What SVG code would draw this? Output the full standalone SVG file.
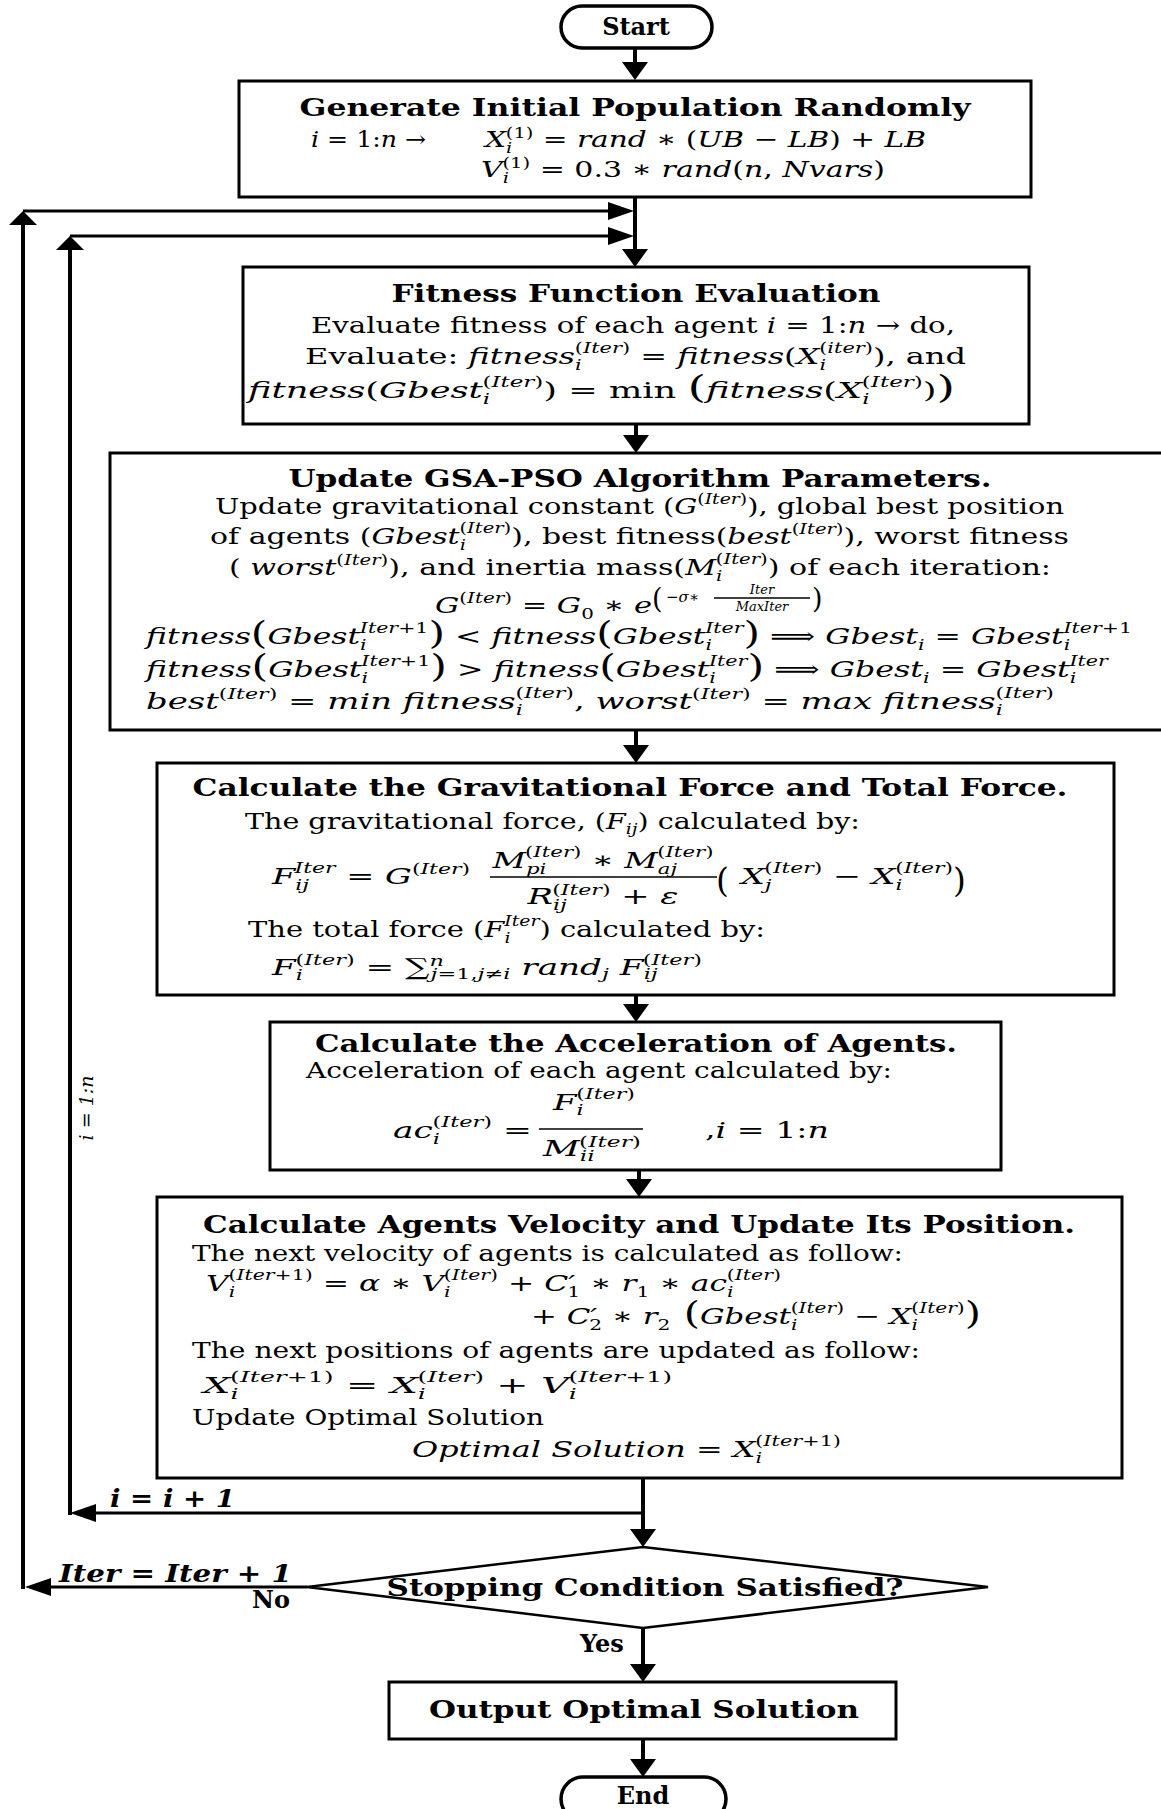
<svg xmlns="http://www.w3.org/2000/svg" width="1161" height="1809" viewBox="0 0 1161 1809">
<style>
  text{font-family:"DejaVu Serif","Liberation Serif",serif;fill:#000}
  .tt{font-weight:bold;font-size:24px}
  .bd{font-size:23px}
  .i{font-style:italic}
  .s{font-size:15px}
  .xs{font-size:13px}
  .bp{font-size:31px}
  .c{text-anchor:middle}
  .box{fill:#fff;stroke:#000;stroke-width:3}
  .term{fill:#fff;stroke:#000;stroke-width:3.5}
  .ln{fill:none;stroke:#000;stroke-width:4}
  .lt{fill:none;stroke:#000;stroke-width:3}
  .bar{stroke:#000;stroke-width:1.6}
</style>
<defs>
  <marker id="ah" markerUnits="userSpaceOnUse" markerWidth="26" markerHeight="18" refX="20" refY="9" orient="auto"><path d="M0,0 L26,9 L0,18 Z"/></marker>
  <marker id="av" markerUnits="userSpaceOnUse" markerWidth="18" markerHeight="26" refX="12" refY="13" orient="auto"><path d="M0,0 L18,13 L0,26 Z"/></marker>
  <marker id="au" markerUnits="userSpaceOnUse" markerWidth="14" markerHeight="28" refX="8" refY="14" orient="auto"><path d="M0,0 L14,14 L0,28 Z"/></marker>
</defs>
<rect width="1161" height="1809" fill="#fff"/>

<!-- connectors -->
<g id="connectors">
  <path class="ln" d="M635,48 V74" marker-end="url(#av)"/>
  <path class="ln" d="M635,197 V261" marker-end="url(#av)"/>
  <path class="lt" d="M23,211 H628" marker-end="url(#ah)"/>
  <path class="lt" d="M70,236 H628" marker-end="url(#ah)"/>
  <path class="ln" d="M23,1589 V217" marker-end="url(#au)"/>
  <path class="ln" d="M70,1515 V242" marker-end="url(#au)"/>
  <path class="ln" d="M636,424 V447" marker-end="url(#av)"/>
  <path class="ln" d="M636,730 V757" marker-end="url(#av)"/>
  <path class="ln" d="M636,995 V1016" marker-end="url(#av)"/>
  <path class="ln" d="M639,1170 V1191" marker-end="url(#av)"/>
  <path class="ln" d="M643,1478 V1541" marker-end="url(#av)"/>
  <path class="lt" d="M643,1513 H76" marker-end="url(#ah)"/>
  <path class="lt" d="M307,1587 H31" marker-end="url(#ah)"/>
  <path class="ln" d="M643,1628 V1676" marker-end="url(#av)"/>
  <path class="ln" d="M643,1739 V1771" marker-end="url(#av)"/>
  <text class="tt i" x="110" y="1507" font-size="22" textLength="125" lengthAdjust="spacingAndGlyphs">i = i + 1</text>
  <text class="tt i" x="59" y="1582" font-size="22" textLength="233" lengthAdjust="spacingAndGlyphs">Iter = Iter + 1</text>
  <text class="tt" x="252" y="1608" font-size="21">No</text>
  <text class="tt" x="580" y="1652" font-size="21">Yes</text>
  <text class="i c" transform="translate(93,1108) rotate(-90)" font-size="19">i = 1:n</text>
</g>

<!-- Start -->
<g id="start">
  <rect class="term" x="561" y="6" width="151" height="42" rx="21"/>
  <text class="tt c" x="636" y="35">Start</text>
</g>

<!-- Generate initial population -->
<g id="init">
  <rect class="box" x="239" y="81" width="792" height="116"/>
  <text class="tt c" x="635" y="116" textLength="671" lengthAdjust="spacingAndGlyphs">Generate Initial Population Randomly</text>
  <text class="bd" x="311" y="147" textLength="115" lengthAdjust="spacingAndGlyphs"><tspan class="i">i</tspan> = 1:<tspan class="i">n</tspan> →</text>
  <text class="bd" x="485" y="147" textLength="441" lengthAdjust="spacingAndGlyphs"><tspan class="i">X</tspan><tspan class="s i" dy="6">i</tspan><tspan class="s" dx="-5" dy="-15">(1)</tspan><tspan dy="9"> = </tspan><tspan class="i">rand</tspan> ∗ (<tspan class="i">UB</tspan> − <tspan class="i">LB</tspan>) + <tspan class="i">LB</tspan></text>
  <text class="bd" x="481" y="177" textLength="404" lengthAdjust="spacingAndGlyphs"><tspan class="i">V</tspan><tspan class="s i" dy="6">i</tspan><tspan class="s" dx="-5" dy="-15">(1)</tspan><tspan dy="9"> = 0.3 ∗ </tspan><tspan class="i">rand</tspan>(<tspan class="i">n</tspan>, <tspan class="i">Nvars</tspan>)</text>
</g>

<!-- Fitness evaluation -->
<g id="fitness">
  <rect class="box" x="243" y="267" width="786" height="157"/>
  <text class="tt c" x="636" y="302" textLength="489" lengthAdjust="spacingAndGlyphs">Fitness Function Evaluation</text>
  <text class="bd" x="311" y="333" textLength="644" lengthAdjust="spacingAndGlyphs">Evaluate fitness of each agent   <tspan class="i">i</tspan> = 1:<tspan class="i">n</tspan> →  do,</text>
  <text class="bd" x="305" y="364" textLength="661" lengthAdjust="spacingAndGlyphs">Evaluate: <tspan class="i">fitness</tspan><tspan class="s i" dy="6">i</tspan><tspan class="s" dx="-5" dy="-17">(<tspan class="i">Iter</tspan>)</tspan><tspan dy="11"> = </tspan><tspan class="i">fitness</tspan>(<tspan class="i">X</tspan><tspan class="s i" dy="6">i</tspan><tspan class="s" dx="-5" dy="-17">(<tspan class="i">iter</tspan>)</tspan><tspan dy="11">), and</tspan></text>
  <text class="bd" x="248" y="398" textLength="707" lengthAdjust="spacingAndGlyphs"><tspan class="i">fitness</tspan>(<tspan class="i">Gbest</tspan><tspan class="s i" dy="6">i</tspan><tspan class="s" dx="-5" dy="-17">(<tspan class="i">Iter</tspan>)</tspan><tspan dy="11">) = min </tspan><tspan class="bp">(</tspan><tspan class="i">fitness</tspan>(<tspan class="i">X</tspan><tspan class="s i" dy="6">i</tspan><tspan class="s" dx="-5" dy="-17">(<tspan class="i">Iter</tspan>)</tspan><tspan dy="11">)</tspan><tspan class="bp">)</tspan></text>
</g>

<!-- Parameter update -->
<g id="params">
  <rect class="box" x="110" y="453" width="1060" height="277"/>
  <text class="tt c" x="640" y="487" textLength="703" lengthAdjust="spacingAndGlyphs">Update GSA-PSO Algorithm Parameters.</text>
  <text class="bd" x="215" y="514" textLength="849" lengthAdjust="spacingAndGlyphs">Update gravitational constant (<tspan class="i">G</tspan><tspan class="s" dy="-10">(<tspan class="i">Iter</tspan>)</tspan><tspan dy="10">), global best position</tspan></text>
  <text class="bd" x="210" y="544" textLength="859" lengthAdjust="spacingAndGlyphs">of agents (<tspan class="i">Gbest</tspan><tspan class="s i" dy="6">i</tspan><tspan class="s" dx="-5" dy="-17">(<tspan class="i">Iter</tspan>)</tspan><tspan dy="11">), best fitness(</tspan><tspan class="i">best</tspan><tspan class="s" dy="-10">(<tspan class="i">Iter</tspan>)</tspan><tspan dy="10">), worst fitness</tspan></text>
  <text class="bd" x="229" y="575" textLength="822" lengthAdjust="spacingAndGlyphs">( <tspan class="i">worst</tspan><tspan class="s" dy="-10">(<tspan class="i">Iter</tspan>)</tspan><tspan dy="10">), and inertia mass(</tspan><tspan class="i">M</tspan><tspan class="s i" dy="6">i</tspan><tspan class="s" dx="-5" dy="-17">(<tspan class="i">Iter</tspan>)</tspan><tspan dy="11">) of each iteration:</tspan></text>
  <text class="bd" x="435" y="613" textLength="217" lengthAdjust="spacingAndGlyphs"><tspan class="i">G</tspan><tspan class="s" dy="-10">(<tspan class="i">Iter</tspan>)</tspan><tspan dy="10"> = </tspan><tspan class="i">G</tspan><tspan class="s" dy="6">0</tspan><tspan dy="-6"> ∗ </tspan><tspan class="i">e</tspan></text>
  <text x="652" y="608" font-size="27">(</text>
  <text class="s" x="666" y="602">−<tspan class="i">σ</tspan>∗</text>
  <text class="xs i c" x="762" y="594">Iter</text>
  <line class="bar" x1="714" y1="598" x2="810" y2="598"/>
  <text class="xs i c" x="762" y="611">MaxIter</text>
  <text x="812" y="608" font-size="27">)</text>
  <text class="bd" x="146" y="644" textLength="986" lengthAdjust="spacingAndGlyphs"><tspan class="i">fitness</tspan><tspan class="bp">(</tspan><tspan class="i">Gbest</tspan><tspan class="s i" dy="6">i</tspan><tspan class="s i" dx="-5" dy="-17">Iter</tspan><tspan class="s">+1</tspan><tspan class="bp" dy="11">)</tspan> &lt; <tspan class="i">fitness</tspan><tspan class="bp">(</tspan><tspan class="i">Gbest</tspan><tspan class="s i" dy="6">i</tspan><tspan class="s i" dx="-5" dy="-17">Iter</tspan><tspan class="bp" dy="11">)</tspan> ⟹ <tspan class="i">Gbest</tspan><tspan class="s i" dy="6">i</tspan><tspan dy="-6"> = </tspan><tspan class="i">Gbest</tspan><tspan class="s i" dy="6">i</tspan><tspan class="s i" dx="-5" dy="-17">Iter</tspan><tspan class="s">+1</tspan></text>
  <text class="bd" x="146" y="677" textLength="962" lengthAdjust="spacingAndGlyphs"><tspan class="i">fitness</tspan><tspan class="bp">(</tspan><tspan class="i">Gbest</tspan><tspan class="s i" dy="6">i</tspan><tspan class="s i" dx="-5" dy="-17">Iter</tspan><tspan class="s">+1</tspan><tspan class="bp" dy="11">)</tspan> &gt; <tspan class="i">fitness</tspan><tspan class="bp">(</tspan><tspan class="i">Gbest</tspan><tspan class="s i" dy="6">i</tspan><tspan class="s i" dx="-5" dy="-17">Iter</tspan><tspan class="bp" dy="11">)</tspan> ⟹  <tspan class="i">Gbest</tspan><tspan class="s i" dy="6">i</tspan><tspan dy="-6"> = </tspan><tspan class="i">Gbest</tspan><tspan class="s i" dy="6">i</tspan><tspan class="s i" dx="-5" dy="-17">Iter</tspan></text>
  <text class="bd" x="146" y="709" textLength="908" lengthAdjust="spacingAndGlyphs"><tspan class="i">best</tspan><tspan class="s" dy="-10">(<tspan class="i">Iter</tspan>)</tspan><tspan dy="10"> = </tspan><tspan class="i">min  fitness</tspan><tspan class="s i" dy="6">i</tspan><tspan class="s" dx="-5" dy="-17">(<tspan class="i">Iter</tspan>)</tspan><tspan dy="11">, </tspan><tspan class="i">worst</tspan><tspan class="s" dy="-10">(<tspan class="i">Iter</tspan>)</tspan><tspan dy="10"> = </tspan><tspan class="i">max  fitness</tspan><tspan class="s i" dy="6">i</tspan><tspan class="s" dx="-5" dy="-17">(<tspan class="i">Iter</tspan>)</tspan></text>
</g>

<!-- Gravitational and total force -->
<g id="force">
  <rect class="box" x="157" y="763" width="957" height="232"/>
  <text class="tt c" x="630" y="796" textLength="875" lengthAdjust="spacingAndGlyphs">Calculate the Gravitational Force and Total Force.</text>
  <text class="bd" x="245" y="829" textLength="615" lengthAdjust="spacingAndGlyphs">The gravitational force, (<tspan class="i">F</tspan><tspan class="s i" dy="5">ij</tspan><tspan dy="-5">) calculated by:</tspan></text>
  <text class="bd" x="272" y="884" textLength="198" lengthAdjust="spacingAndGlyphs"><tspan class="i">F</tspan><tspan class="s i" dy="6">ij</tspan><tspan class="s i" dx="-10" dy="-17">Iter</tspan><tspan dy="11"> = </tspan><tspan class="i">G</tspan><tspan class="s" dy="-10">(<tspan class="i">Iter</tspan>)</tspan></text>
  <text class="bd c" x="603" y="868" textLength="221" lengthAdjust="spacingAndGlyphs"><tspan class="i">M</tspan><tspan class="s i" dy="6">pi</tspan><tspan class="s" dx="-15" dy="-17">(<tspan class="i">Iter</tspan>)</tspan><tspan dy="11"> ∗ </tspan><tspan class="i">M</tspan><tspan class="s i" dy="6">aj</tspan><tspan class="s" dx="-14" dy="-17">(<tspan class="i">Iter</tspan>)</tspan></text>
  <line class="bar" x1="490" y1="877" x2="717" y2="877"/>
  <text class="bd c" x="603" y="904" textLength="151" lengthAdjust="spacingAndGlyphs"><tspan class="i">R</tspan><tspan class="s i" dy="6">ij</tspan><tspan class="s" dx="-10" dy="-15">(<tspan class="i">Iter</tspan>)</tspan><tspan dy="9"> +  </tspan><tspan class="i">ε</tspan></text>
  <text x="716" y="892" font-size="33">(</text>
  <text class="bd" x="741" y="884" textLength="212" lengthAdjust="spacingAndGlyphs"><tspan class="i">X</tspan><tspan class="s i" dy="6">j</tspan><tspan class="s" dx="-5" dy="-17">(<tspan class="i">Iter</tspan>)</tspan><tspan dy="11"> − </tspan><tspan class="i">X</tspan><tspan class="s i" dy="6">i</tspan><tspan class="s" dx="-5" dy="-17">(<tspan class="i">Iter</tspan>)</tspan></text>
  <text x="953" y="892" font-size="33">)</text>
  <text class="bd" x="248" y="937" textLength="517" lengthAdjust="spacingAndGlyphs">The total force (<tspan class="i">F</tspan><tspan class="s i" dy="6">i</tspan><tspan class="s i" dx="-5" dy="-17">Iter</tspan><tspan dy="11">) calculated by:</tspan></text>
  <text class="bd" x="272" y="975" textLength="430" lengthAdjust="spacingAndGlyphs"><tspan class="i">F</tspan><tspan class="s i" dy="5">i</tspan><tspan class="s" dx="-5" dy="-15">(<tspan class="i">Iter</tspan>)</tspan><tspan dy="10"> = ∑</tspan><tspan class="s i" dy="-9">n</tspan><tspan class="s" dx="-9" dy="13"><tspan class="i">j</tspan>=1,<tspan class="i">j</tspan>≠<tspan class="i">i</tspan></tspan><tspan class="i" dy="-4"> rand</tspan><tspan class="s i" dy="4">j</tspan><tspan class="i" dy="-4"> F</tspan><tspan class="s i" dy="4">ij</tspan><tspan class="s" dx="-10" dy="-14">(<tspan class="i">Iter</tspan>)</tspan></text>
</g>

<!-- Acceleration -->
<g id="accel">
  <rect class="box" x="270" y="1022" width="731" height="148"/>
  <text class="tt c" x="636" y="1052" textLength="642" lengthAdjust="spacingAndGlyphs">Calculate the Acceleration of Agents.</text>
  <text class="bd" x="306" y="1078" textLength="586" lengthAdjust="spacingAndGlyphs">Acceleration of each agent calculated by:</text>
  <text class="bd" x="393" y="1138" textLength="139" lengthAdjust="spacingAndGlyphs"><tspan class="i">ac</tspan><tspan class="s i" dy="6">i</tspan><tspan class="s" dx="-5" dy="-17">(<tspan class="i">Iter</tspan>)</tspan><tspan dy="11"> = </tspan></text>
  <text class="bd c" x="594" y="1110" textLength="82" lengthAdjust="spacingAndGlyphs"><tspan class="i">F</tspan><tspan class="s i" dy="5">i</tspan><tspan class="s" dx="-5" dy="-16">(<tspan class="i">Iter</tspan>)</tspan></text>
  <line class="bar" x1="539" y1="1129" x2="643" y2="1129"/>
  <text class="bd c" x="592" y="1156" textLength="98" lengthAdjust="spacingAndGlyphs"><tspan class="i">M</tspan><tspan class="s i" dy="5">ii</tspan><tspan class="s" dx="-10" dy="-14">(<tspan class="i">Iter</tspan>)</tspan></text>
  <text class="bd" x="705" y="1138" textLength="124" lengthAdjust="spacingAndGlyphs">,<tspan class="i">i</tspan> = 1:<tspan class="i">n</tspan></text>
</g>

<!-- Velocity and position update -->
<g id="velocity">
  <rect class="box" x="157" y="1197" width="965" height="281"/>
  <text class="tt c" x="639" y="1233" textLength="872" lengthAdjust="spacingAndGlyphs">Calculate Agents Velocity and Update Its Position.</text>
  <text class="bd" x="192" y="1261" textLength="711" lengthAdjust="spacingAndGlyphs">The next velocity of agents is calculated as follow:</text>
  <text class="bd" x="206" y="1291" textLength="575" lengthAdjust="spacingAndGlyphs"><tspan class="i">V</tspan><tspan class="s i" dy="6">i</tspan><tspan class="s" dx="-5" dy="-17">(<tspan class="i">Iter</tspan>+1)</tspan><tspan dy="11"> = </tspan><tspan class="i">α</tspan> ∗ <tspan class="i">V</tspan><tspan class="s i" dy="6">i</tspan><tspan class="s" dx="-5" dy="-17">(<tspan class="i">Iter</tspan>)</tspan><tspan dy="11"> + </tspan><tspan class="i">C′</tspan><tspan class="s" dx="-6" dy="6">1</tspan><tspan dy="-6"> ∗ </tspan><tspan class="i">r</tspan><tspan class="s" dy="6">1</tspan><tspan dy="-6"> ∗ </tspan><tspan class="i">ac</tspan><tspan class="s i" dy="6">i</tspan><tspan class="s" dx="-5" dy="-17">(<tspan class="i">Iter</tspan>)</tspan></text>
  <text class="bd" x="531" y="1324" textLength="450" lengthAdjust="spacingAndGlyphs">+ <tspan class="i">C′</tspan><tspan class="s" dx="-6" dy="6">2</tspan><tspan dy="-6"> ∗ </tspan><tspan class="i">r</tspan><tspan class="s" dy="6">2</tspan><tspan class="bp" dy="-6"> (</tspan><tspan class="i">Gbest</tspan><tspan class="s i" dy="6">i</tspan><tspan class="s" dx="-5" dy="-17">(<tspan class="i">Iter</tspan>)</tspan><tspan dy="11"> − </tspan><tspan class="i">X</tspan><tspan class="s i" dy="6">i</tspan><tspan class="s" dx="-5" dy="-17">(<tspan class="i">Iter</tspan>)</tspan><tspan class="bp" dy="11">)</tspan></text>
  <text class="bd" x="192" y="1358" textLength="728" lengthAdjust="spacingAndGlyphs">The next positions of agents are updated as follow:</text>
  <text class="bd" x="203" y="1393" textLength="469" lengthAdjust="spacingAndGlyphs" font-size="25"><tspan class="i">X</tspan><tspan class="s i" dy="6">i</tspan><tspan class="s" dx="-5" dy="-17">(<tspan class="i">Iter</tspan>+1)</tspan><tspan dy="11"> = </tspan><tspan class="i">X</tspan><tspan class="s i" dy="6">i</tspan><tspan class="s" dx="-5" dy="-17">(<tspan class="i">Iter</tspan>)</tspan><tspan dy="11"> + </tspan><tspan class="i">V</tspan><tspan class="s i" dy="6">i</tspan><tspan class="s" dx="-5" dy="-17">(<tspan class="i">Iter</tspan>+1)</tspan></text>
  <text class="bd" x="192" y="1425" textLength="352" lengthAdjust="spacingAndGlyphs">Update Optimal Solution</text>
  <text class="bd" x="412" y="1457" textLength="429" lengthAdjust="spacingAndGlyphs"><tspan class="i">Optimal Solution</tspan> = <tspan class="i">X</tspan><tspan class="s i" dy="6">i</tspan><tspan class="s" dx="-5" dy="-17">(<tspan class="i">Iter</tspan>+1)</tspan></text>
</g>

<!-- Stopping condition -->
<g id="decision">
  <polygon points="643,1547 988,1587 643,1628 307,1587" fill="#fff" stroke="#000" stroke-width="2.5"/>
  <text class="tt c" x="645" y="1596" textLength="517" lengthAdjust="spacingAndGlyphs">Stopping Condition Satisfied?</text>
</g>

<!-- Output -->
<g id="output">
  <rect class="box" x="389" y="1682" width="507" height="57"/>
  <text class="tt c" x="644" y="1718" textLength="430" lengthAdjust="spacingAndGlyphs">Output Optimal Solution</text>
</g>

<!-- End -->
<g id="end">
  <rect class="term" x="561" y="1777" width="165" height="44" rx="22"/>
  <text class="tt c" x="643" y="1804">End</text>
</g>
</svg>
